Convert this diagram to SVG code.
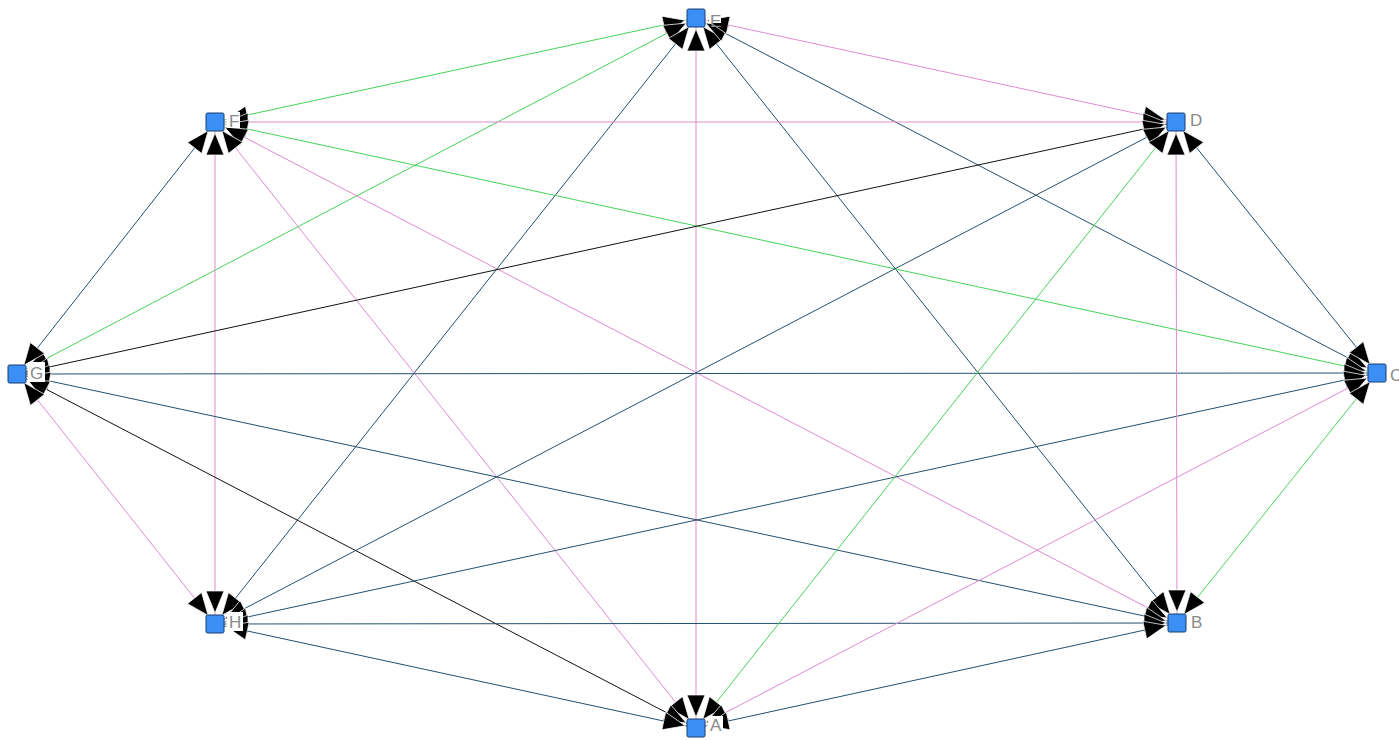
<svg xmlns="http://www.w3.org/2000/svg" width="1399" height="740" viewBox="0 0 1399 740">
<style>
.e{stroke-width:1;fill:none;marker-start:url(#ah);marker-end:url(#ah)}
.b{stroke:#25506e}.p{stroke:#e08bd0}.g{stroke:#48d25a}.k{stroke:#111}
.n{fill:#3a8ff5;stroke:#1b3d6e;stroke-width:1}
.lb{fill:#fff}
.t{font-family:"Liberation Sans",Arial,sans-serif;font-size:17px;fill:#8a8a8a}
</style>
<defs>
<marker id="ah" markerUnits="userSpaceOnUse" markerWidth="40" markerHeight="40" refX="0" refY="0" orient="auto-start-reverse" overflow="visible">
<path d="M -11 0 L -33 -9 L -33 9 Z" fill="#000" stroke="#fff" stroke-width="0.7"/>
</marker>
</defs>
<rect width="1399" height="740" fill="#fff"/>
<g id="connectors">
<line class="e g" x1="696" y1="18" x2="215" y2="122"/>
<line class="e g" x1="696" y1="18" x2="17" y2="374"/>
<line class="e b" x1="696" y1="18" x2="215" y2="624"/>
<line class="e p" x1="696" y1="18" x2="696" y2="728"/>
<line class="e b" x1="696" y1="18" x2="1177" y2="623"/>
<line class="e b" x1="696" y1="18" x2="1377" y2="373"/>
<line class="e p" x1="696" y1="18" x2="1176" y2="122"/>
<line class="e p" x1="215" y1="122" x2="1176" y2="122"/>
<line class="e g" x1="215" y1="122" x2="1377" y2="373"/>
<line class="e p" x1="215" y1="122" x2="1177" y2="623"/>
<line class="e p" x1="215" y1="122" x2="696" y2="728"/>
<line class="e p" x1="215" y1="122" x2="215" y2="624"/>
<line class="e b" x1="215" y1="122" x2="17" y2="374"/>
<line class="e k" x1="17" y1="374" x2="1176" y2="122"/>
<line class="e b" x1="17" y1="374" x2="1377" y2="373"/>
<line class="e b" x1="17" y1="374" x2="1177" y2="623"/>
<line class="e k" x1="17" y1="374" x2="696" y2="728"/>
<line class="e p" x1="17" y1="374" x2="215" y2="624"/>
<line class="e b" x1="215" y1="624" x2="1176" y2="122"/>
<line class="e b" x1="215" y1="624" x2="1377" y2="373"/>
<line class="e b" x1="215" y1="624" x2="1177" y2="623"/>
<line class="e b" x1="215" y1="624" x2="696" y2="728"/>
<line class="e g" x1="696" y1="728" x2="1176" y2="122"/>
<line class="e p" x1="696" y1="728" x2="1377" y2="373"/>
<line class="e b" x1="696" y1="728" x2="1177" y2="623"/>
<line class="e p" x1="1177" y1="623" x2="1176" y2="122"/>
<line class="e g" x1="1177" y1="623" x2="1377" y2="373"/>
<line class="e b" x1="1377" y1="373" x2="1176" y2="122"/>
</g>
<g id="node-E"><rect class="n" x="687" y="9" width="18" height="18" rx="1.5"/><rect class="lb" x="709" y="9" width="12" height="14"/><text class="t" x="710" y="27">E</text></g>
<g id="node-D"><rect class="n" x="1167" y="113" width="18" height="18" rx="1.5"/><text class="t" x="1190" y="126">D</text></g>
<g id="node-C"><rect class="n" x="1368" y="364" width="18" height="18" rx="1.5"/><text class="t" x="1390" y="381">C</text></g>
<g id="node-B"><rect class="n" x="1168" y="614" width="18" height="18" rx="1.5"/><rect class="lb" x="1189" y="613" width="15" height="18"/><text class="t" x="1191" y="628">B</text></g>
<g id="node-A"><rect class="n" x="687" y="719" width="18" height="18" rx="1.5"/><rect class="lb" x="708" y="716" width="15" height="18"/><text class="t" x="710" y="731">A</text></g>
<g id="node-H"><rect class="n" x="206" y="615" width="18" height="18" rx="1.5"/><rect class="lb" x="227" y="612" width="16" height="19"/><text class="t" x="229" y="628">H</text></g>
<g id="node-G"><rect class="n" x="8" y="365" width="18" height="18" rx="1.5"/><rect class="lb" x="28" y="362" width="17" height="20"/><text class="t" x="30" y="379">G</text></g>
<g id="node-F"><rect class="n" x="206" y="113" width="18" height="18" rx="1.5"/><rect class="lb" x="227" y="112" width="13" height="16"/><text class="t" x="229" y="127">F</text></g>
</svg>
